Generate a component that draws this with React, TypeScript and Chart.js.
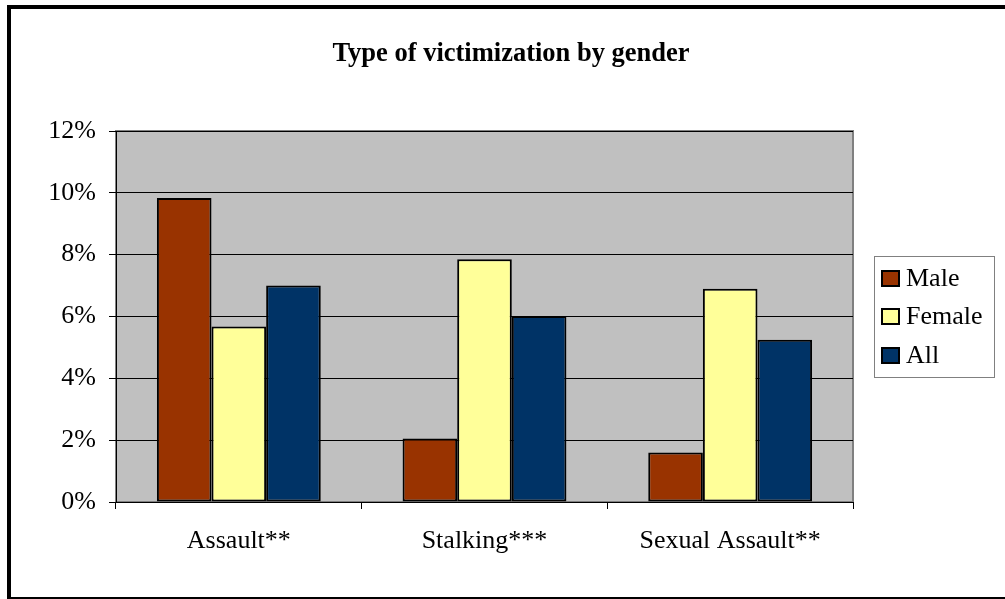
import React, { useEffect, useRef } from "react";
import { Chart, registerables } from "chart.js";

Chart.register(...registerables);

const TITLE = "Type of victimization by gender";
const categories = ["Assault**", "Stalking***", "Sexual Assault**"];
const seriesNames = ["Male", "Female", "All"];
const maleValues = [9.83, 2.05, 1.6];
const femaleValues = [5.68, 7.85, 6.9];
const allValues = [7.0, 6.02, 5.25];
const seriesColors = ["#993300", "#FFFF99", "#003366"];
const yTicks = [0, 2, 4, 6, 8, 10, 12];

const FONT = "'Liberation Serif', 'Times New Roman', Times, serif";

const framePlugin = {
  id: "frame",
  beforeDraw(chart: any) {
    const { ctx, chartArea } = chart;
    ctx.save();
    ctx.fillStyle = "#ffffff";
    ctx.fillRect(0, 0, chart.width, chart.height);
    // outer border
    ctx.fillStyle = "#000000";
    ctx.fillRect(7, 5, 4, 594);
    ctx.fillRect(7, 5, 998, 4);
    ctx.fillRect(7, 597, 998, 2);
    // plot area
    ctx.fillStyle = "#C0C0C0";
    ctx.fillRect(chartArea.left, chartArea.top, chartArea.right - chartArea.left, chartArea.bottom - chartArea.top);
    ctx.strokeStyle = "#808080";
    ctx.lineWidth = 2;
    ctx.strokeRect(chartArea.left, chartArea.top, chartArea.right - chartArea.left, chartArea.bottom - chartArea.top);
    // title
    ctx.fillStyle = "#000000";
    ctx.font = `bold 26.5px ${FONT}`;
    ctx.textAlign = "center";
    ctx.textBaseline = "alphabetic";
    ctx.fillText(TITLE, 511, 61);
    ctx.restore();
  },
  afterDraw(chart: any) {
    const { ctx } = chart;
    ctx.save();
    // legend box
    ctx.fillStyle = "#ffffff";
    ctx.fillRect(874, 256, 120, 121);
    ctx.strokeStyle = "#808080";
    ctx.lineWidth = 1;
    ctx.strokeRect(874.5, 256.5, 120, 121);
    const rowY = [278, 316, 355];
    ctx.font = `normal 400 26px ${FONT}`;
    ctx.textAlign = "left";
    ctx.textBaseline = "middle";
    seriesNames.forEach((name, i) => {
      ctx.fillStyle = seriesColors[i];
      ctx.fillRect(882, rowY[i] - 7, 17, 15);
      ctx.strokeStyle = "#000000";
      ctx.lineWidth = 2;
      ctx.strokeRect(882, rowY[i] - 7, 17, 15);
      ctx.fillStyle = "#000000";
      ctx.fillText(name, 906, rowY[i] + 1);
    });
    ctx.restore();
  },
};

export default function App() {
  const ref = useRef<HTMLCanvasElement | null>(null);
  useEffect(() => {
    if (!ref.current) return;
    const valueSets = [maleValues, femaleValues, allValues];
    const chart = new Chart(ref.current, {
      type: "bar",
      data: {
        labels: categories,
        datasets: seriesNames.map((name, i) => ({
          label: name,
          data: valueSets[i],
          backgroundColor: seriesColors[i],
          borderColor: "#000000",
          borderWidth: 2,
          borderSkipped: false,
          categoryPercentage: 0.667,
          barPercentage: 1.0,
        })),
      },
      options: {
        responsive: false,
        animation: false,
        devicePixelRatio: 1,
        layout: { padding: { left: 16, top: 131, right: 152, bottom: 37 } },
        plugins: {
          legend: { display: false },
          title: { display: false },
          tooltip: { enabled: false },
        },
        scales: {
          x: {
            afterFit(scale: any) {
              scale.height = 60;
            },
            border: { display: true, color: "#000000", width: 1 },
            grid: {
              display: true,
              drawOnChartArea: false,
              drawTicks: true,
              tickLength: 7,
              color: "#000000",
              offset: true,
            },
            ticks: {
              color: "#000000",
              font: { family: FONT, size: 26, weight: "normal" },
              padding: 17,
              maxRotation: 0,
            },
          },
          y: {
            min: 0,
            max: 12,
            afterFit(scale: any) {
              scale.width = 100;
            },
            afterBuildTicks(scale: any) {
              scale.ticks = yTicks.map((v) => ({ value: v }));
            },
            border: { display: true, color: "#000000", width: 1 },
            grid: {
              color: "#000000",
              lineWidth: 1,
              drawTicks: true,
              tickLength: 7,
            },
            ticks: {
              color: "#000000",
              font: { family: FONT, size: 26, weight: "normal" },
              padding: 13,
              callback: (v: any) => `${v}%`,
            },
          },
        },
      },
      plugins: [framePlugin],
    });
    let alive = true;
    const fonts: any = (document as any).fonts;
    if (fonts && fonts.load) {
      Promise.all([
        fonts.load(`normal 400 26px ${FONT}`),
        fonts.load(`bold 26.5px ${FONT}`),
      ])
        .then(() => {
          if (alive) chart.update();
        })
        .catch(() => {});
    }
    return () => {
      alive = false;
      chart.destroy();
    };
  }, []);
  return (
    <div style={{ position: "absolute", left: 0, top: 0, width: 1005, height: 599 }}>
      <canvas ref={ref} width={1005} height={599} style={{ width: 1005, height: 599, display: "block" }} />
    </div>
  );
}
